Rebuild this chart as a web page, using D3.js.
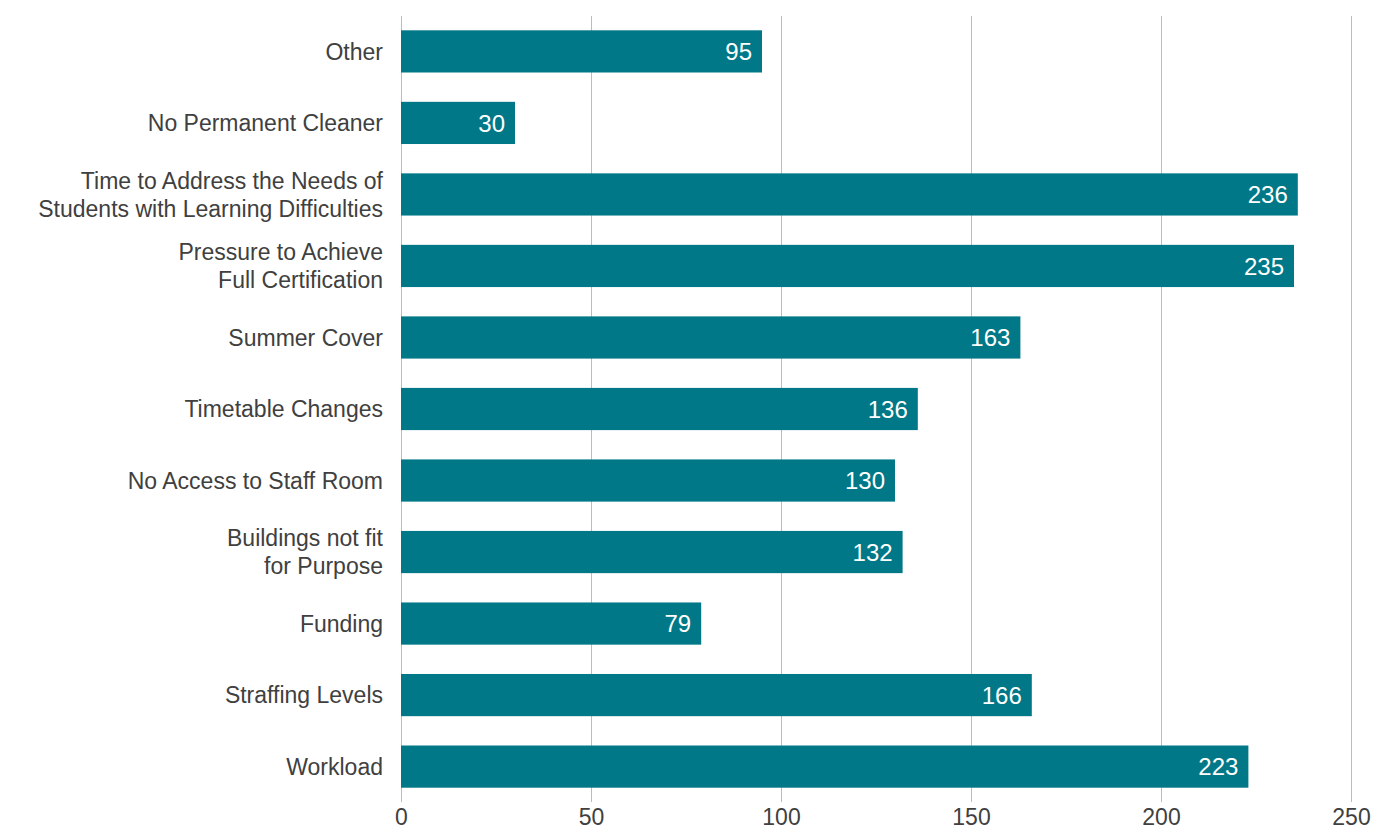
<!DOCTYPE html>
<html>
<head>
	<meta http-equiv="Content-Type" content="text/html;charset=utf-8"/>
	<title>Issues</title>
	<script src="https://d3js.org/d3.v7.min.js"></script>
	<style type="text/css">
		body { margin: 0; background: #fff; }
		text { font-family: "Liberation Sans", Arial, sans-serif; }
		.cat { font-size: 23px; fill: #404040; }
		.tick text { font-size: 23px; fill: #404040; }
		.val { font-size: 24px; fill: #fff; }
	</style>
</head>
<body>
<svg width="1373" height="834"></svg>
<script type="text/javascript">
// categories top to bottom, lines split where the chart wraps them
var categories = [
	["Other"],
	["No Permanent Cleaner"],
	["Time to Address the Needs of", "Students with Learning Difficulties"],
	["Pressure to Achieve", "Full Certification"],
	["Summer Cover"],
	["Timetable Changes"],
	["No Access to Staff Room"],
	["Buildings not fit", "for Purpose"],
	["Funding"],
	["Straffing Levels"],
	["Workload"]
];
var values = [95, 30, 236, 235, 163, 136, 130, 132, 79, 166, 223];
var ticks = [0, 50, 100, 150, 200, 250];

var data = categories.map(function(c, i) { return {key: c.join(" "), lines: c, value: values[i]}; });

var svg = d3.select("svg");
var x = d3.scaleLinear().domain([0, 250]).range([401, 1351]);
var y = d3.scaleBand().domain(data.map(function(d) { return d.key; }))
	.range([16, 802]).paddingInner(0.41).paddingOuter(0.2);

// grid lines
svg.append("g").selectAll("line")
	.data(ticks)
	.enter().append("line")
		.attr("x1", function(d) { return x(d) + 0.5; })
		.attr("x2", function(d) { return x(d) + 0.5; })
		.attr("y1", 16).attr("y2", 802)
		.attr("stroke", "#9fc6d2").attr("stroke-width", 1);

// x axis labels, kept inside the bottom edge
var xAxis = svg.append("g")
	.attr("transform", "translate(0,802)")
	.call(d3.axisBottom(x).tickValues(ticks).tickSize(0).tickPadding(7));
xAxis.select(".domain").remove();

// bars
svg.append("g").selectAll("rect")
	.data(data)
	.enter().append("rect")
		.attr("x", x(0))
		.attr("y", function(d) { return y(d.key); })
		.attr("width", function(d) { return x(d.value) - x(0); })
		.attr("height", y.bandwidth())
		.attr("fill", "#007887");

// value labels
svg.append("g").selectAll("text")
	.data(data)
	.enter().append("text")
		.attr("class", "val")
		.attr("x", function(d) { return x(d.value) - 10; })
		.attr("y", function(d) { return y(d.key) + y.bandwidth() / 2; })
		.attr("dy", "0.36em")
		.attr("text-anchor", "end")
		.text(function(d) { return d.value; });

// category labels
var cat = svg.append("g").selectAll("text")
	.data(data)
	.enter().append("text")
		.attr("class", "cat")
		.attr("text-anchor", "end")
		.attr("y", function(d) { return y(d.key) + y.bandwidth() / 2; });
cat.selectAll("tspan")
	.data(function(d) { return d.lines.map(function(l, i) { return {t: l, i: i, n: d.lines.length}; }); })
	.enter().append("tspan")
		.attr("x", 383)
		.attr("dy", function(l) { return l.i === 0 ? (0.36 - (l.n - 1) * 0.61) + "em" : "1.22em"; })
		.text(function(l) { return l.t; });
</script>
</body>
</html>
